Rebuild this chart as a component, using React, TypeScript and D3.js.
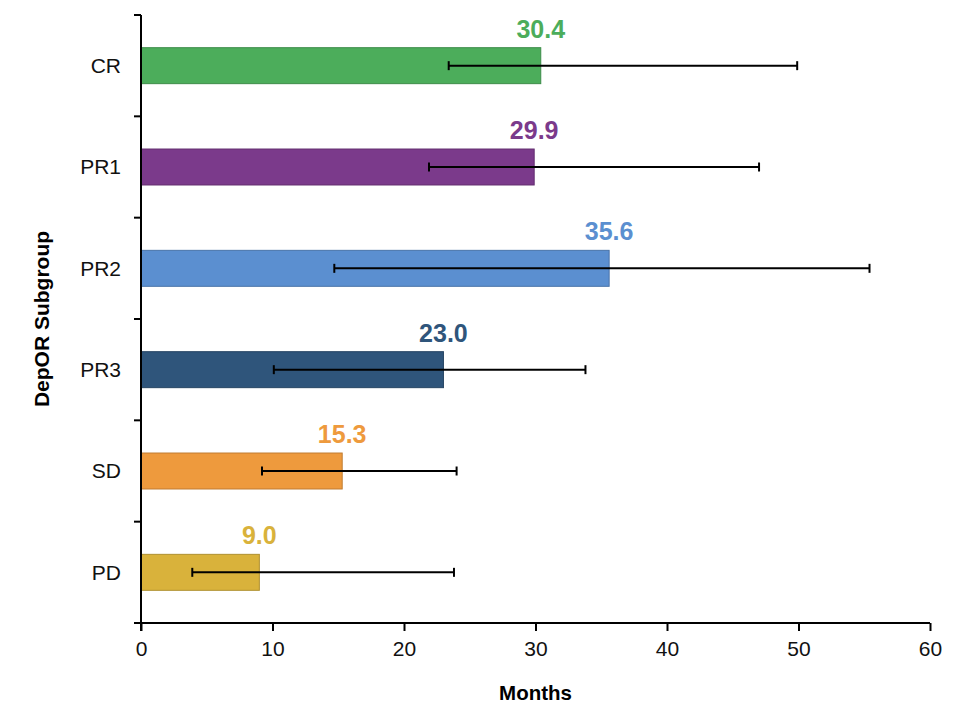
import React, { useEffect, useRef } from 'react';
import * as d3 from 'd3';

const subgroups = ['CR', 'PR1', 'PR2', 'PR3', 'SD', 'PD'];
const medians = [30.4, 29.9, 35.6, 23.0, 15.3, 9.0];
const ciLow = [23.4, 21.9, 14.7, 10.1, 9.2, 3.9];
const ciHigh = [49.9, 47.0, 55.4, 33.8, 24.0, 23.8];
const barColors = ['#4cad5b', '#7b3a8b', '#5b8fd0', '#2f557b', '#ee9a3d', '#d9b23b'];
const xTicks = [0, 10, 20, 30, 40, 50, 60];

const WIDTH = 978;
const HEIGHT = 724;
const FONT = 'Liberation Sans, Arial, Helvetica, sans-serif';

export default function App() {
  const svgRef = useRef<SVGSVGElement>(null);

  useEffect(() => {
    if (!svgRef.current) return;
    const svg = d3.select(svgRef.current);
    svg.selectAll('*').remove();

    const margin = { top: 15, right: 48, bottom: 101, left: 141 };
    const innerW = WIDTH - margin.left - margin.right;
    const innerH = HEIGHT - margin.top - margin.bottom;

    const g = svg.append('g').attr('transform', `translate(${margin.left},${margin.top})`);

    const x = d3.scaleLinear().domain([0, 60]).range([0, innerW]);
    const y = d3.scaleBand<string>()
      .domain(subgroups)
      .range([0, innerH])
      .paddingInner(0.645)
      .paddingOuter(0.3225);
    const step = y.step();

    const rows = subgroups.map((name, i) => ({
      name,
      value: medians[i],
      lo: ciLow[i],
      hi: ciHigh[i],
      color: barColors[i],
    }));

    // bars
    g.selectAll('rect.bar')
      .data(rows)
      .enter()
      .append('rect')
      .attr('class', 'bar')
      .attr('x', 0)
      .attr('y', d => y(d.name)!)
      .attr('width', d => x(d.value))
      .attr('height', y.bandwidth())
      .attr('fill', d => d.color)
      .attr('stroke', d => d3.color(d.color)!.darker(0.6).formatHex())
      .attr('stroke-width', 1);

    // error bars
    const err = g.selectAll('g.err')
      .data(rows)
      .enter()
      .append('g')
      .attr('class', 'err')
      .attr('transform', d => `translate(0,${y(d.name)! + y.bandwidth() / 2})`);
    err.append('line')
      .attr('x1', d => x(d.lo))
      .attr('x2', d => x(d.hi))
      .attr('stroke', '#000')
      .attr('stroke-width', 2);
    err.append('line')
      .attr('x1', d => x(d.lo))
      .attr('x2', d => x(d.lo))
      .attr('y1', -4.5)
      .attr('y2', 4.5)
      .attr('stroke', '#000')
      .attr('stroke-width', 2);
    err.append('line')
      .attr('x1', d => x(d.hi))
      .attr('x2', d => x(d.hi))
      .attr('y1', -4.5)
      .attr('y2', 4.5)
      .attr('stroke', '#000')
      .attr('stroke-width', 2);

    // value labels
    g.selectAll('text.val')
      .data(rows)
      .enter()
      .append('text')
      .attr('class', 'val')
      .attr('x', d => x(d.value))
      .attr('y', d => y(d.name)! - 10)
      .attr('text-anchor', 'middle')
      .attr('font-family', FONT)
      .attr('font-weight', 'bold')
      .attr('font-size', 25)
      .attr('fill', d => d.color)
      .text(d => d.value.toFixed(1));

    // y axis: line with ticks at band boundaries
    g.append('line')
      .attr('x1', 0).attr('x2', 0)
      .attr('y1', 0).attr('y2', innerH + 8)
      .attr('stroke', '#000').attr('stroke-width', 2);
    g.selectAll('line.ytick')
      .data(d3.range(subgroups.length))
      .enter()
      .append('line')
      .attr('x1', -7).attr('x2', 0)
      .attr('y1', i => i * step).attr('y2', i => i * step)
      .attr('stroke', '#000').attr('stroke-width', 2);
    g.selectAll('text.ylab')
      .data(subgroups)
      .enter()
      .append('text')
      .attr('x', -20)
      .attr('y', d => y(d)! + y.bandwidth() / 2)
      .attr('dy', '0.35em')
      .attr('text-anchor', 'end')
      .attr('font-family', FONT)
      .attr('font-size', 21)
      .attr('fill', '#111')
      .text(d => d);

    // x axis
    const xAxis = g.append('g')
      .attr('transform', `translate(0,${innerH})`)
      .call(d3.axisBottom(x).tickValues(xTicks).tickSize(8).tickSizeOuter(0).tickPadding(10));
    xAxis.select('.domain').remove();
    xAxis.append('line')
      .attr('x1', -7).attr('x2', innerW)
      .attr('stroke', '#000').attr('stroke-width', 2);
    xAxis.selectAll('.tick line').attr('stroke', '#000').attr('stroke-width', 2);
    xAxis.selectAll('.tick text')
      .attr('font-family', FONT)
      .attr('font-size', 21)
      .attr('fill', '#111');

    // axis titles
    svg.append('text')
      .attr('x', margin.left + innerW / 2)
      .attr('y', 700)
      .attr('text-anchor', 'middle')
      .attr('font-family', FONT)
      .attr('font-weight', 'bold')
      .attr('font-size', 20.5)
      .text('Months');
    svg.append('text')
      .attr('transform', `translate(49,${margin.top + innerH / 2}) rotate(-90)`)
      .attr('text-anchor', 'middle')
      .attr('font-family', FONT)
      .attr('font-weight', 'bold')
      .attr('font-size', 21)
      .text('DepOR Subgroup');
  }, []);

  return (
    <svg
      ref={svgRef}
      width={WIDTH}
      height={HEIGHT}
      style={{ position: 'absolute', left: 0, top: 0, background: '#fff' }}
    />
  );
}
